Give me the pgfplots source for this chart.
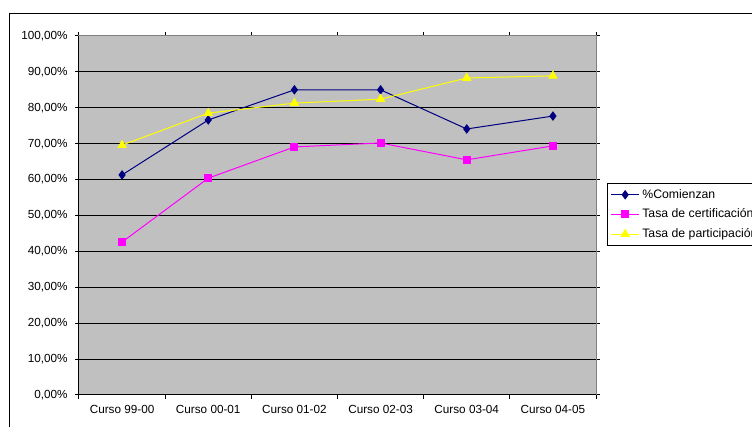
\documentclass[border=0pt]{standalone}
\usepackage{pgfplots}
\pgfplotsset{compat=1.18}
\usepackage{fontspec}
\setmainfont{Liberation Sans}
\definecolor{plotgray}{HTML}{C0C0C0}
\definecolor{navyc}{HTML}{000080}
\definecolor{magc}{HTML}{FF00FF}
\definecolor{yelc}{HTML}{FFFF00}
\begin{document}
\begin{tikzpicture}
\begin{axis}[
  scale only axis,
  width=387.75pt, height=269.25pt,
  xmin=0, xmax=6, ymin=0, ymax=100,
  xtick={0.5,1.5,2.5,3.5,4.5,5.5},
  xticklabels={Curso 99-00,Curso 00-01,Curso 01-02,Curso 02-03,Curso 03-04,Curso 04-05},
  minor xtick={0,1,2,3,4,5,6},
  major x tick style={draw=none},
  ytick={0,10,...,100},
  yticklabels={{0,00\%},{10,00\%},{20,00\%},{30,00\%},{40,00\%},{50,00\%},{60,00\%},{70,00\%},{80,00\%},{90,00\%},{100,00\%}},
  tick align=outside,
  major tick length=3pt, minor tick length=3pt,
  tick style={black, line width=0.75pt},
  ymajorgrids,
  grid style={black, line width=0.75pt},
  axis background/.style={fill=plotgray},
  axis line style={draw=gray, line width=0.75pt},
  ticklabel style={font=\fontsize{8.8}{10}\selectfont},
  yticklabel style={xshift=-2pt},
  xticklabel style={yshift=-1pt},
  legend style={at={(1.0213,0.5905)}, anchor=north west, draw=black, line width=0.5pt,
    font=\fontsize{9.2}{10}\selectfont, inner sep=2.5pt, row sep=2.5pt, cells={anchor=west}},
  legend image code/.code={%
    \draw[#1, line width=0.75pt] (0pt,0pt) -- (21pt,0pt);
    \draw[#1, mark repeat=2, mark phase=2] plot coordinates {(0pt,0pt) (10.5pt,0pt) (21pt,0pt)};},
  legend cell align=left,
  clip=false,
]
\addplot[navyc, line width=0.75pt, mark=diamond*, mark size=3pt, mark options={fill=navyc, draw=navyc}]
  coordinates {(0.5,61.3) (1.5,76.6) (2.5,85.0) (3.5,85.0) (4.5,74.1) (5.5,77.7)};
\addlegendentry{\%Comienzan}
\addplot[magc, line width=0.75pt, mark=square*, mark size=2.6pt, mark options={fill=magc, draw=magc}]
  coordinates {(0.5,42.6) (1.5,60.4) (2.5,69.1) (3.5,70.2) (4.5,65.5) (5.5,69.4)};
\addlegendentry{Tasa de certificación}
\addplot[yelc, line width=0.75pt, mark=triangle*, mark size=3.4pt, mark options={fill=yelc, draw=yelc}]
  coordinates {(0.5,69.6) (1.5,78.5) (2.5,81.3) (3.5,82.4) (4.5,88.3) (5.5,88.9)};
\addlegendentry{Tasa de participación}
\draw[black, line width=0.75pt] (axis cs:0,100) -- (axis cs:0,0) -- (axis cs:6,0);
\end{axis}
\draw[black, line width=0.75pt] (-51.75pt,-60pt) -- (-51.75pt,285.75pt) -- (560pt,285.75pt);
\pgfresetboundingbox
\path[use as bounding box] (-59.25pt,-24pt) rectangle (504.75pt,296.25pt);
\end{tikzpicture}
\end{document}
